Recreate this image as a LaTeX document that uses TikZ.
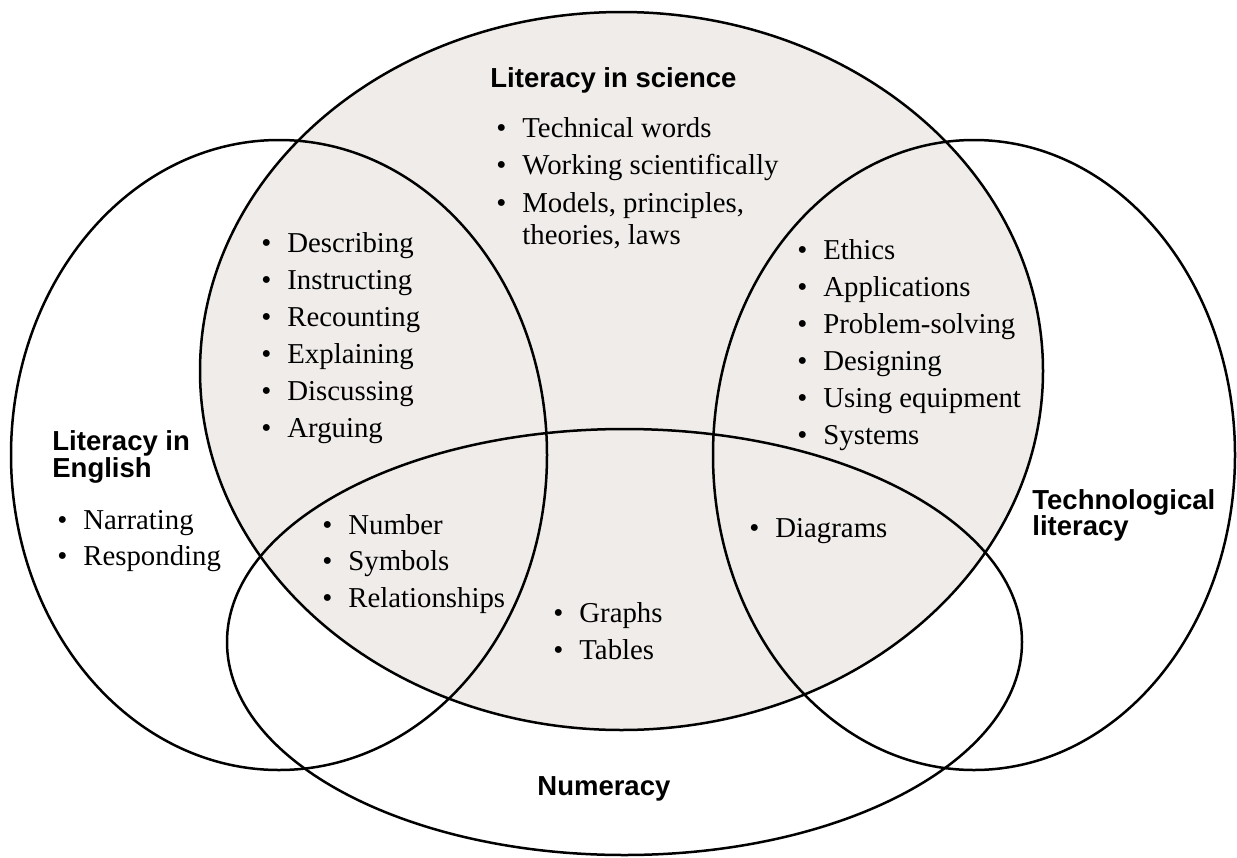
\documentclass[tikz,border=0pt]{standalone}
\usepackage{fontspec}
\setmainfont{Liberation Serif}
\newfontfamily\headfont{Liberation Sans}
\usepackage{tikz}

\definecolor{scigray}{RGB}{239,236,234}

\tikzset{
  ring/.style={draw=black, line width=1.25pt},
  head/.style={font=\headfont\bfseries\fontsize{13.75}{13.5}\selectfont,
    anchor=base west, inner sep=0pt},
  entry/.style={font=\fontsize{14.4}{18}\selectfont,
    anchor=base west, inner sep=0pt},
}
% bullet in a box of fixed width, so the words line up
\newcommand{\bul}{\makebox[13pt][l]{\textbullet}}

\begin{document}
\begin{tikzpicture}[x=0.5pt,y=-0.5pt]
\useasboundingbox (0,0) rectangle (1237,857);

% centres of the four rings
\coordinate (sci) at (621.5,371);
\coordinate (eng) at (279,455);
\coordinate (tec) at (974,455);
\coordinate (num) at (624.5,642);

\fill[scigray] (sci) ellipse [x radius=421.5, y radius=359];
\draw[ring] (sci) ellipse [x radius=421.5, y radius=359];
\draw[ring] (eng) ellipse [x radius=268, y radius=315];
\draw[ring] (tec) ellipse [x radius=261, y radius=315];
\draw[ring] (num) ellipse [x radius=397.5, y radius=213];

% headings
\node[head] (sci-head) at (490,87) {Literacy in science};
\node[head] (eng-head) at (52,450) {Literacy in};
\node[head] (eng-head2) at (52,477) {English};
\node[head] (tec-head) at (1032,509) {Technological};
\node[head] (tec-head2) at (1032,535) {literacy};
\node[head] (num-head) at (537,795) {Numeracy};

% science only
\foreach \w [count=\i from 0] in {Technical words, Working scientifically, {Models, principles,}}
  \node[entry] (sci-\i) at (496,137+37.5*\i) {\bul\w};
\node[entry] (sci-3) at (522,244) {theories, laws};

% science and English
\foreach \w [count=\i from 0] in {Describing, Instructing, Recounting, Explaining, Discussing, Arguing}
  \node[entry] (se-\i) at (261,252+37*\i) {\bul\w};

% science and technology
\foreach \w [count=\i from 0] in {Ethics, Applications, Problem-solving, Designing, Using equipment, Systems}
  \node[entry] (st-\i) at (797,259+37*\i) {\bul\w};

% English only
\foreach \w [count=\i from 0] in {Narrating, Responding}
  \node[entry] (en-\i) at (57,529+36*\i) {\bul\w};

% science, English and numeracy
\foreach \w [count=\i from 0] in {Number, Symbols, Relationships}
  \node[entry] (sen-\i) at (322,534+36.5*\i) {\bul\w};

% science and numeracy
\foreach \w [count=\i from 0] in {Graphs, Tables}
  \node[entry] (sn-\i) at (553,622+37*\i) {\bul\w};

% science, technology and numeracy
\node[entry] (stn-0) at (749,537) {\bul Diagrams};
\end{tikzpicture}
\end{document}
